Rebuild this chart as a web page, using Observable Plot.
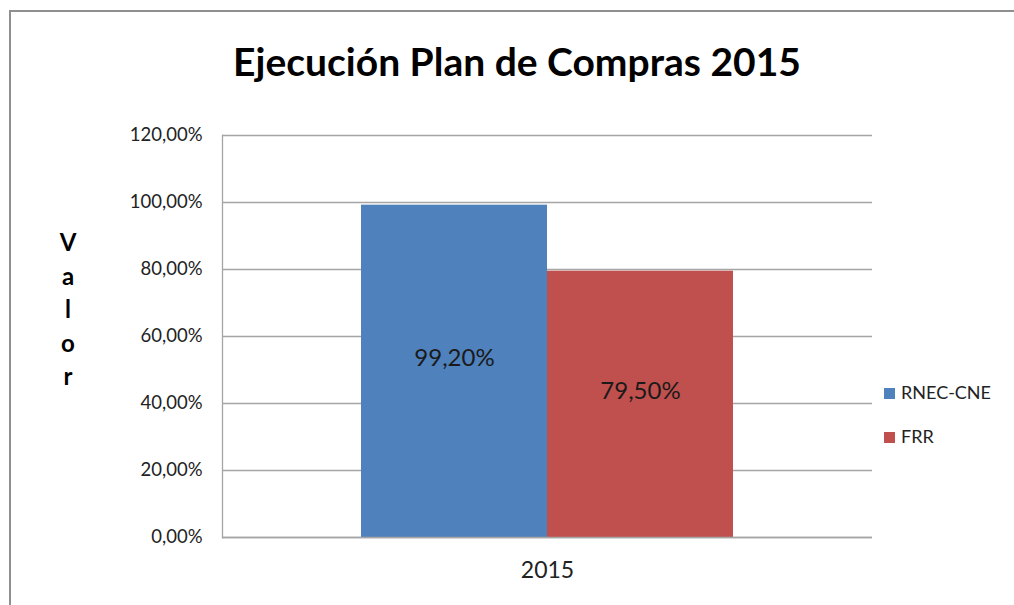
<!DOCTYPE html>
<html>
<head>
<meta charset="utf-8">
<script src="https://cdn.jsdelivr.net/npm/d3@7"></script>
<script src="https://cdn.jsdelivr.net/npm/@observablehq/plot@0.6"></script>
<style>
  html, body { margin: 0; padding: 0; background: #fff; overflow: hidden; }
  #edgeTop { position: absolute; left: 9px; top: 10px; width: 1005px; height: 2px; background: #8f8f8f; }
  #edgeLeft { position: absolute; left: 9px; top: 10px; width: 2px; height: 595px; background: #8f8f8f; }
  #title { position: absolute; left: 20px; width: 994px; top: 36px; text-align: center; font-family: Lato, sans-serif; font-weight: 700; font-size: 39px; color: #000; line-height: 50px; white-space: nowrap; }
  #ylabel { position: absolute; left: 54px; width: 28px; top: 225px; text-align: center; font-family: Lato, sans-serif; font-weight: 700; font-size: 24px; line-height: 33.5px; color: #000; }
  #chart { position: absolute; left: 0; top: 0; width: 1014px; height: 605px; }
  #chart svg { display: block; }
  #legend { position: absolute; left: 884px; top: 380px; font-family: Lato, sans-serif; font-size: 18px; color: #222; }
  .item { position: absolute; left: 0; white-space: nowrap; height: 24px; line-height: 24px; }
  .sw { display: inline-block; width: 11px; height: 11px; vertical-align: middle; margin-right: 6px; position: relative; top: -1px; }
</style>
</head>
<body>
<div id="edgeTop"></div>
<div id="edgeLeft"></div>
<div id="chart"></div>
<div id="title">Ejecución Plan de Compras 2015</div>
<div id="ylabel"></div>
<div id="legend"></div>
<script>
const years = ["2015"];
const series = ["RNEC-CNE", "FRR"];
const values = [0.992, 0.795];
const colors = ["#4F81BD", "#C0504D"];
const yTicks = [0, 0.2, 0.4, 0.6, 0.8, 1.0, 1.2];
const yLabel = "Valor";

const locale = d3.formatLocale({decimal: ",", thousands: ".", grouping: [3], currency: ["", "€"]});
const pct = locale.format(".2%");

const data = series.map((s, i) => ({year: years[0], series: s, value: values[i]}));

const chart = Plot.plot({
  width: 1014,
  height: 605,
  marginLeft: 222,
  marginRight: 142,
  marginTop: 135,
  marginBottom: 68,
  style: {fontFamily: "Lato, sans-serif", background: "transparent", color: "#222"},
  fx: {padding: 0, label: null, axis: null},
  x: {domain: series, paddingInner: 0, paddingOuter: 0.747, axis: null},
  y: {domain: [0, 1.2], axis: null},
  color: {domain: series, range: colors},
  marks: [
    Plot.gridY(yTicks, {stroke: "#a5a5a5", strokeOpacity: 1, strokeWidth: 1.3}),
    Plot.frame({anchor: "left", stroke: "#a5a5a5", strokeWidth: 1.3}),
    Plot.axisY(yTicks, {tickFormat: pct, tickSize: 0, tickPadding: 20, fontSize: 18.5, fill: "#222", label: null}),
    Plot.axisFx({anchor: "bottom", tickSize: 0, tickPadding: 24, fontSize: 23, fill: "#222", label: null}),
    Plot.barY(data, {fx: "year", x: "series", y: "value", fill: "series"}),
    Plot.ruleY([0], {stroke: "#a5a5a5", strokeWidth: 1.3}),
    Plot.text(data, {fx: "year", x: "series", y: d => d.value / 2, text: d => pct(d.value), dy: -13, fontSize: 24, fill: "#1a1a1a"})
  ]
});
document.getElementById("chart").appendChild(chart);

document.getElementById("ylabel").innerHTML = yLabel.split("").join("<br>");

const legend = document.getElementById("legend");
series.forEach((s, i) => {
  const item = document.createElement("div");
  item.className = "item";
  item.style.top = (i * 44) + "px";
  item.innerHTML = `<span class="sw" style="background:${colors[i]}"></span>${s}`;
  legend.appendChild(item);
});
</script>
</body>
</html>
